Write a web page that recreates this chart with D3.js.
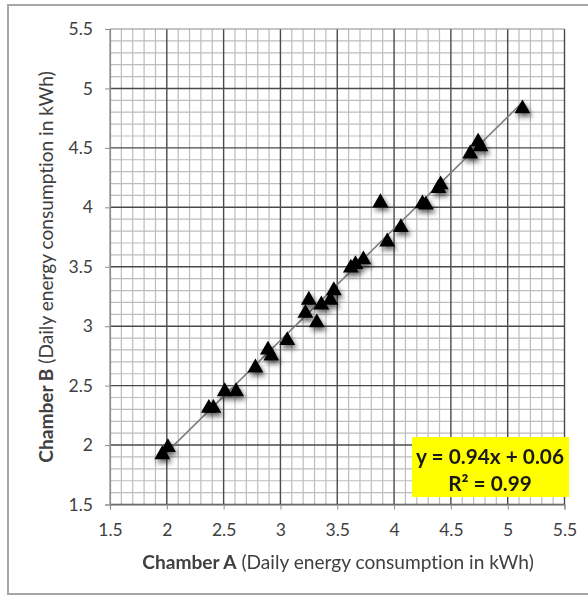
<!DOCTYPE html>
<html><head><meta charset="utf-8">
<script src="https://cdn.jsdelivr.net/npm/d3@7"></script>
<style>body{margin:0;background:#fff}svg{display:block}text{font-variant-ligatures:none;font-feature-settings:"liga" 0}</style>
</head><body>
<svg id="c" width="588" height="597"></svg>
<script>
const chamberA = [1.96,2.01,2.37,2.41,2.51,2.61,2.78,2.89,2.92,3.06,3.22,3.25,3.32,3.36,3.44,3.47,3.62,3.66,3.73,3.88,3.94,4.06,4.25,4.28,4.39,4.41,4.67,4.74,4.76,5.13];
const chamberB = [1.92,1.98,2.31,2.31,2.45,2.45,2.65,2.80,2.75,2.88,3.11,3.22,3.03,3.18,3.22,3.30,3.49,3.52,3.56,4.04,3.71,3.83,4.03,4.02,4.16,4.19,4.45,4.55,4.51,4.83];
const tickValues = [1.5,2,2.5,3,3.5,4,4.5,5,5.5];
const trendSlope = 0.94, trendIntercept = 0.06;
const eqLabel = "y = 0.94x + 0.06";
const r2Label = "R² = 0.99";
const xTitleBold = "Chamber A", xTitleRest = " (Daily energy consumption in kWh)";
const yTitleBold = "Chamber B", yTitleRest = " (Daily energy consumption in kWh)";

const svg = d3.select("#c");
const font = "Lato, 'Open Sans', sans-serif";
const L = 110, R = 564.5, T = 29, B = 504.5;
const x = d3.scaleLinear().domain([1.5,5.5]).range([L,R]);
const y = d3.scaleLinear().domain([1.5,5.5]).range([B,T]);

function fitText(sel, target){
  const fs = +sel.attr("font-size");
  const w = sel.node().getComputedTextLength();
  if (w > 0) sel.attr("font-size", fs*target/w);
}

// outer border
svg.append("rect").attr("x",8).attr("y",5).attr("width",600).attr("height",589)
  .attr("fill","none").attr("stroke","#a6a6a6").attr("stroke-width",2);

const defs = svg.append("defs");
const f = defs.append("filter").attr("id","sh").attr("x","-50%").attr("y","-50%").attr("width","200%").attr("height","200%");
f.append("feDropShadow").attr("dx",2).attr("dy",3.5).attr("stdDeviation",2.5).attr("flood-color","#000").attr("flood-opacity",0.6);

const minor = d3.range(15,56).map(d=>d/10).filter(d=>Math.abs(d*2-Math.round(d*2))>1e-6);
const g = svg.append("g");
g.selectAll(".mx").data(minor).join("line")
  .attr("x1",d=>x(d)).attr("x2",d=>x(d)).attr("y1",T).attr("y2",B)
  .attr("stroke","#bdbdbd").attr("stroke-width",1.2);
g.selectAll(".my").data(minor).join("line")
  .attr("y1",d=>y(d)).attr("y2",d=>y(d)).attr("x1",L).attr("x2",R)
  .attr("stroke","#bdbdbd").attr("stroke-width",1.2);
g.selectAll(".Mx").data(tickValues.slice(1)).join("line")
  .attr("x1",d=>x(d)).attr("x2",d=>x(d)).attr("y1",T).attr("y2",B)
  .attr("stroke","#4a4a4a").attr("stroke-width",1.4);
g.selectAll(".My").data(tickValues.slice(0,-1)).join("line")
  .attr("y1",d=>y(d)).attr("y2",d=>y(d)).attr("x1",L).attr("x2",R)
  .attr("stroke","#4a4a4a").attr("stroke-width",1.4);
g.append("line").attr("x1",x(1.5)).attr("x2",x(5.5)).attr("y1",y(5.5)).attr("y2",y(5.5)).attr("stroke","#8c8c8c").attr("stroke-width",1.2);
g.append("line").attr("x1",x(1.5)).attr("x2",x(1.5)).attr("y1",T).attr("y2",B).attr("stroke","#8c8c8c").attr("stroke-width",1.2);

// axes
const xa = svg.append("g").attr("transform",`translate(0,${B})`)
  .call(d3.axisBottom(x).tickValues(tickValues).tickSize(5).tickPadding(14).tickFormat(d3.format("")));
const ya = svg.append("g").attr("transform",`translate(${L},0)`)
  .call(d3.axisLeft(y).tickValues(tickValues).tickSize(5).tickPadding(12).tickFormat(d3.format("")));
[xa,ya].forEach(a=>{
  a.select(".domain").attr("stroke","#8c8c8c").attr("stroke-width",1.2);
  a.selectAll(".tick line").attr("stroke","#8c8c8c");
  a.selectAll("text").attr("font-family",font).attr("font-size",17.5).attr("fill","#404040");
});

// trend line
const tx = d3.extent(chamberA);
svg.append("line").attr("x1",x(tx[0])).attr("y1",y(trendSlope*tx[0]+trendIntercept))
  .attr("x2",x(tx[1])).attr("y2",y(trendSlope*tx[1]+trendIntercept))
  .attr("stroke","#7f7f7f").attr("stroke-width",1.6);

// points
const tri = d3.symbol().type(d3.symbolTriangle).size(110);
svg.append("g").attr("filter","url(#sh)").selectAll("path").data(chamberA).join("path")
  .attr("d",tri).attr("transform",(d,i)=>`translate(${x(d)},${y(chamberB[i])})`).attr("fill","#000");

// equation box
svg.append("rect").attr("x",412).attr("y",437).attr("width",157).attr("height",60).attr("fill","#ffff00");
const e1 = svg.append("text").attr("x",490).attr("y",464).attr("text-anchor","middle").attr("font-family",font)
  .attr("font-weight","bold").attr("font-size",18).attr("fill","#1a1a1a").text(eqLabel);
fitText(e1,148);
svg.append("text").attr("x",490).attr("y",491).attr("text-anchor","middle").attr("font-family",font)
  .attr("font-weight","bold").attr("font-size",e1.attr("font-size")).attr("fill","#1a1a1a").text(r2Label);

// titles
const xt = svg.append("text").attr("x",338).attr("y",569).attr("text-anchor","middle").attr("font-family",font).attr("font-size",15.5).attr("fill","#404040");
xt.append("tspan").attr("font-weight","bold").text(xTitleBold);
xt.append("tspan").text(xTitleRest);
fitText(xt,392);
const yt = svg.append("text").attr("transform","translate(53,267) rotate(-90)").attr("text-anchor","middle").attr("font-family",font).attr("font-size",15.5).attr("fill","#404040");
yt.append("tspan").attr("font-weight","bold").text(yTitleBold);
yt.append("tspan").text(yTitleRest);
fitText(yt,392);
</script>
</body></html>
